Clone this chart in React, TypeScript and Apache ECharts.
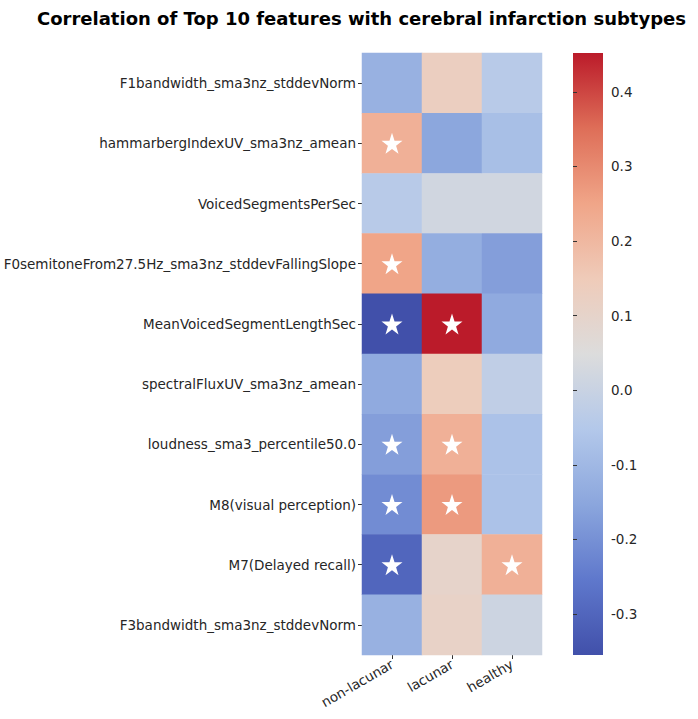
import React, { useEffect, useRef } from "react";
import * as echarts from "echarts";

const TITLE = "Correlation of Top 10 features with cerebral infarction subtypes";
const subtypes = ["non-lacunar", "lacunar", "healthy"];
const features = [
  "F1bandwidth_sma3nz_stddevNorm",
  "hammarbergIndexUV_sma3nz_amean",
  "VoicedSegmentsPerSec",
  "F0semitoneFrom27.5Hz_sma3nz_stddevFallingSlope",
  "MeanVoicedSegmentLengthSec",
  "spectralFluxUV_sma3nz_amean",
  "loudness_sma3_percentile50.0",
  "M8(visual perception)",
  "M7(Delayed recall)",
  "F3bandwidth_sma3nz_stddevNorm",
];
// rows = features, columns = non-lacunar, lacunar, healthy
const nonLacunar = [-0.12, 0.22, -0.04, 0.25, -0.355, -0.14, -0.17, -0.21, -0.30, -0.12];
const lacunar = [0.13, -0.15, 0.02, -0.13, 0.452, 0.14, 0.22, 0.27, 0.10, 0.11];
const healthy = [-0.04, -0.08, 0.02, -0.17, -0.14, -0.02, -0.07, -0.07, 0.22, 0.01];
// significance markers (stars)
const sigNonLacunar = [false, true, false, true, true, false, true, true, true, false];
const sigLacunar = [false, false, false, false, true, false, true, true, false, false];
const sigHealthy = [false, false, false, false, false, false, false, false, true, false];

const vMin = -0.355;
const vMax = 0.452;
const colorbarTicks = [-0.3, -0.2, -0.1, 0.0, 0.1, 0.2, 0.3, 0.4];
const coolwarm = ["#4150aa", "#5f78cc", "#8ba6dd", "#b3c8ea", "#dcdcdc", "#efcbb9", "#f0a588", "#de6e58", "#bb1b2a"];

const STAR = "path://M50,0 L61.8,35.1 L98.9,35.1 L69,57 L80.3,91.9 L50,70.4 L19.7,91.9 L31,57 L1.1,35.1 L38.2,35.1 Z";
const FONT = "DejaVu Sans";

// layout
const HM = { left: 362, top: 53, width: 180, height: 602 };
const CB = { left: 573, top: 53, width: 30, height: 602 };

export default function App() {
  const ref = useRef<HTMLDivElement>(null);
  useEffect(() => {
    if (!ref.current) return;
    const chart = echarts.init(ref.current, null, { renderer: "svg" });
    const cols = [nonLacunar, lacunar, healthy];
    const sigs = [sigNonLacunar, sigLacunar, sigHealthy];
    const heat: any[] = [];
    const stars: any[] = [];
    cols.forEach((arr, c) => arr.forEach((v, r) => heat.push([c, r, v])));
    sigs.forEach((arr, c) => arr.forEach((s, r) => { if (s) stars.push([c, r]); }));

    const n = coolwarm.length;
    chart.setOption({
      animation: false,
      backgroundColor: "#ffffff",
      textStyle: { fontFamily: FONT },
      title: {
        text: TITLE,
        left: 32,
        top: 4,
        textStyle: { fontFamily: FONT, fontSize: 18, fontWeight: "bold", color: "#000" },
      },
      grid: [
        { left: HM.left, top: HM.top, width: HM.width, height: HM.height, containLabel: false },
        { left: CB.left, top: CB.top, width: CB.width, height: CB.height, containLabel: false },
      ],
      xAxis: [
        {
          type: "category",
          gridIndex: 0,
          data: subtypes,
          axisLine: { show: false },
          axisTick: { show: true, alignWithLabel: true, length: 4, lineStyle: { color: "#333" } },
          axisLabel: { rotate: 30, fontSize: 13.5, color: "#262626", margin: 8, fontFamily: FONT },
          splitLine: { show: false },
        },
        { type: "value", gridIndex: 1, show: false, min: 0, max: 1 },
      ],
      yAxis: [
        {
          type: "category",
          gridIndex: 0,
          data: features,
          inverse: true,
          axisLine: { show: false },
          axisTick: { show: true, alignWithLabel: true, length: 4, lineStyle: { color: "#333" } },
          axisLabel: { fontSize: 13.5, color: "#262626", margin: 6, fontFamily: FONT },
          splitLine: { show: false },
        },
        {
          type: "value",
          gridIndex: 1,
          position: "right",
          min: vMin,
          max: vMax,
          axisLine: { show: false },
          splitLine: { show: false },
          axisTick: { show: true, length: 4, customValues: colorbarTicks, lineStyle: { color: "#333" } },
          axisLabel: {
            fontSize: 13.5,
            color: "#262626",
            margin: 8,
            fontFamily: FONT,
            customValues: colorbarTicks,
            formatter: (v: number) => v.toFixed(1),
          },
        },
      ],
      visualMap: {
        show: false,
        type: "continuous",
        min: vMin,
        max: vMax,
        seriesIndex: 0,
        dimension: 2,
        inRange: { color: coolwarm },
      },
      graphic: [
        {
          type: "rect",
          shape: { x: CB.left, y: CB.top, width: CB.width, height: CB.height },
          style: {
            fill: new echarts.graphic.LinearGradient(
              0, 0, 0, 1,
              coolwarm.map((c, i) => ({ offset: i / (n - 1), color: coolwarm[n - 1 - i] }))
            ),
          },
          z: -1,
        },
      ],
      series: [
        {
          type: "heatmap",
          xAxisIndex: 0,
          yAxisIndex: 0,
          data: heat,
          itemStyle: { borderWidth: 0 },
          emphasis: { disabled: true },
        },
        {
          type: "scatter",
          xAxisIndex: 0,
          yAxisIndex: 0,
          data: stars,
          symbol: STAR,
          symbolSize: 21,
          itemStyle: { color: "#ffffff", opacity: 1 },
          z: 5,
        },
      ],
    });
    return () => chart.dispose();
  }, []);
  return (
    <div
      ref={ref}
      style={{ position: "fixed", left: 0, top: 0, width: 698, height: 719, background: "#fff" }}
    />
  );
}
